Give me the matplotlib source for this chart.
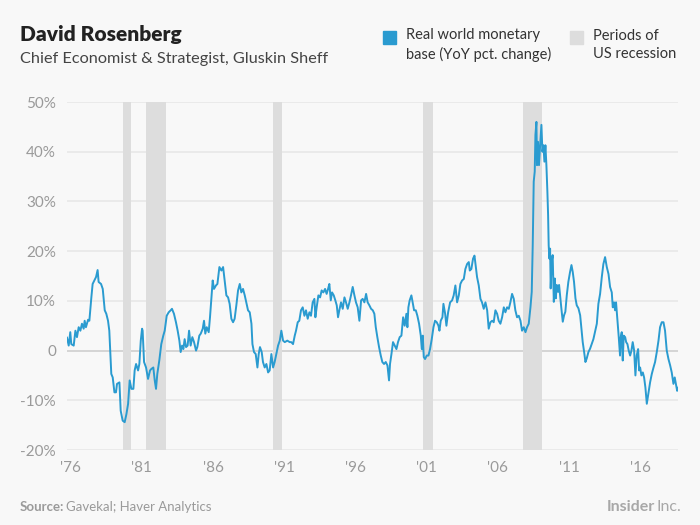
import matplotlib.pyplot as plt
import numpy as np

plt.rcParams['font.family'] = ['Lato', 'DejaVu Sans']

# decimal years and YoY % change of the real world monetary base
years = [
    1976.00, 1976.12, 1976.23, 1976.30, 1976.47, 1976.59, 1976.70, 1976.82, 1976.94, 1977.05,
    1977.17, 1977.24, 1977.33, 1977.48, 1977.57, 1977.71, 1977.80, 1977.92, 1978.04, 1978.15,
    1978.22, 1978.39, 1978.51, 1978.65, 1978.76, 1978.88, 1978.97, 1979.11, 1979.21, 1979.33,
    1979.44, 1979.51, 1979.68, 1979.77, 1979.91, 1980.05, 1980.17, 1980.29, 1980.40, 1980.52,
    1980.66, 1980.75, 1980.85, 1980.99, 1981.08, 1981.18, 1981.27,
    1981.31, 1981.41, 1981.55, 1981.69, 1981.83, 1981.92, 1982.06, 1982.16, 1982.25, 1982.34,
    1982.48, 1982.62, 1982.76, 1982.86, 1983.00, 1983.14, 1983.28, 1983.37, 1983.51, 1983.65,
    1983.77, 1983.89, 1983.98, 1984.08, 1984.17, 1984.26, 1984.36, 1984.47, 1984.57, 1984.68,
    1984.80, 1984.92, 1985.06, 1985.15, 1985.29, 1985.39, 1985.53, 1985.62, 1985.71, 1985.81,
    1985.95, 1986.04, 1986.14, 1986.23, 1986.32, 1986.46, 1986.56, 1986.70,
    1986.84, 1986.96, 1987.07, 1987.19, 1987.31, 1987.42, 1987.54, 1987.66, 1987.77, 1987.89,
    1988.01, 1988.13, 1988.24, 1988.36, 1988.48, 1988.59, 1988.71, 1988.83, 1988.95, 1989.02,
    1989.13, 1989.25, 1989.37, 1989.46, 1989.55, 1989.67, 1989.76, 1989.88, 1990.00, 1990.12,
    1990.23, 1990.35, 1990.47, 1990.58, 1990.70, 1990.82, 1990.94, 1991.05, 1991.17, 1991.29,
    1991.47, 1991.64, 1991.75, 1991.87, 1991.99,
    1992.08, 1992.20, 1992.31, 1992.43, 1992.55, 1992.67, 1992.78, 1992.90, 1993.02, 1993.13,
    1993.25, 1993.37, 1993.44, 1993.53, 1993.65, 1993.77, 1993.88, 1994.00, 1994.12, 1994.23,
    1994.33, 1994.42, 1994.52, 1994.61, 1994.73, 1994.84, 1994.94, 1995.03, 1995.12, 1995.24,
    1995.36, 1995.48, 1995.59, 1995.71, 1995.83, 1995.94, 1996.06, 1996.18, 1996.29, 1996.41,
    1996.53, 1996.65, 1996.76, 1996.88, 1997.00, 1997.11, 1997.23, 1997.35, 1997.47, 1997.58,
    1997.68, 1997.79, 1997.91, 1998.03, 1998.14, 1998.26, 1998.38, 1998.50, 1998.61, 1998.68,
    1998.78, 1998.89, 1999.01, 1999.13, 1999.24, 1999.36, 1999.48, 1999.60, 1999.71, 1999.83,
    1999.90, 1999.97, 2000.06, 2000.18, 2000.27, 2000.37, 2000.49, 2000.60, 2000.72, 2000.84,
    2000.91, 2000.98, 2001.05, 2001.14, 2001.26, 2001.38, 2001.49, 2001.61, 2001.73, 2001.84,
    2001.96, 2002.08, 2002.15, 2002.24, 2002.36, 2002.43, 2002.55, 2002.64, 2002.76, 2002.90,
    2003.04, 2003.15, 2003.27, 2003.39, 2003.51, 2003.62, 2003.74, 2003.86, 2003.97, 2004.09,
    2004.21, 2004.28, 2004.39, 2004.51, 2004.61, 2004.68, 2004.79, 2004.91, 2005.03, 2005.14,
    2005.26, 2005.38, 2005.50, 2005.61, 2005.73, 2005.85, 2005.96, 2006.08, 2006.20, 2006.31,
    2006.43, 2006.55, 2006.67, 2006.78, 2006.90, 2007.02, 2007.13, 2007.25, 2007.37, 2007.48,
    2007.60, 2007.72, 2007.84, 2007.95, 2008.07, 2008.19, 2008.30, 2008.42, 2008.54,
    2008.63, 2008.70, 2008.77, 2008.84, 2008.89, 2008.96, 2009.00, 2009.07, 2009.14, 2009.22,
    2009.31, 2009.38, 2009.45, 2009.52, 2009.59, 2009.66, 2009.73, 2009.78, 2009.82, 2009.87,
    2009.92, 2009.96, 2010.03, 2010.10, 2010.18, 2010.25, 2010.32, 2010.39, 2010.48, 2010.55,
    2010.62, 2010.71, 2010.81, 2010.90, 2010.99, 2011.09, 2011.20, 2011.32, 2011.42, 2011.51,
    2011.60, 2011.70, 2011.79, 2011.91, 2012.03, 2012.12, 2012.21, 2012.31, 2012.40, 2012.49,
    2012.61, 2012.73, 2012.96, 2013.20, 2013.31,
    2013.43, 2013.55, 2013.66, 2013.78, 2013.90, 2014.02, 2014.13, 2014.25, 2014.32, 2014.41,
    2014.48, 2014.55, 2014.65, 2014.74, 2014.83, 2014.88, 2014.95, 2015.02, 2015.09, 2015.19,
    2015.26, 2015.35, 2015.44, 2015.54, 2015.63, 2015.72, 2015.82, 2015.91, 2016.00, 2016.10,
    2016.17, 2016.24, 2016.33, 2016.43, 2016.52, 2016.61, 2016.71, 2016.82, 2016.94, 2017.06,
    2017.18, 2017.29, 2017.41, 2017.53, 2017.64, 2017.76, 2017.88, 2017.99, 2018.11, 2018.23,
    2018.35, 2018.46, 2018.58, 2018.67, 2018.77, 2018.84, 2018.89,
]
values = [
    2.6, 1.0, 3.7, 1.3, 1.0, 4.0, 2.7, 4.7, 4.0, 5.4,
    4.4, 6.0, 4.7, 6.2, 6.0, 10.7, 13.4, 14.1, 14.8, 16.2,
    13.8, 13.4, 12.4, 8.1, 7.4, 6.0, 4.0, -4.7, -5.4, -8.4,
    -8.4, -6.7, -6.4, -12.1, -14.1, -14.4, -12.8, -10.7, -6.0, -7.7,
    -7.7, -4.0, -2.7, -4.0, -2.7, 2.0, 4.4,
    4.0, -2.3, -3.4, -5.7, -4.0, -3.7, -3.4, -6.0, -7.7, -4.7,
    -2.0, 1.3, 3.0, 4.0, 7.0, 7.7, 8.1, 8.4, 7.4, 5.7,
    4.0, 2.0, -0.3, 1.0, 0.3, 2.3, 0.7, 1.0, 4.0, 1.0,
    2.7, 1.7, 0.0, 0.7, 3.0, 3.4, 4.4, 6.0, 3.4, 4.7,
    3.7, 6.7, 10.7, 14.1, 12.4, 13.1, 13.4, 16.8,
    16.1, 16.8, 14.1, 11.1, 10.7, 9.4, 6.4, 5.7, 6.4, 9.1,
    12.1, 13.4, 11.7, 12.4, 11.1, 9.7, 8.1, 7.7, 5.4, 1.3,
    -0.3, -0.7, -3.4, -0.7, 0.7, -0.3, -2.3, -3.4, -2.7, -4.4,
    -4.0, -0.7, -3.4, -2.3, -0.7, 1.0, 2.0, 4.0, 2.0, 1.7,
    2.0, 1.7, 1.7, 1.3, 3.0,
    4.0, 5.7, 6.0, 8.1, 8.7, 7.0, 8.1, 6.4, 7.7, 7.0,
    9.7, 10.4, 6.7, 8.7, 11.1, 10.7, 12.1, 11.7, 12.4, 11.4,
    12.4, 13.4, 10.1, 11.7, 11.1, 10.1, 9.1, 6.7, 8.1, 9.7,
    8.4, 10.7, 9.7, 8.4, 9.7, 11.1, 12.8, 11.1, 9.7, 8.7,
    6.0, 10.1, 10.4, 9.7, 11.4, 9.7, 9.1, 8.4, 8.1, 7.4,
    4.7, 2.7, 0.7, -1.0, -2.3, -2.7, -2.3, -3.0, -6.0, -2.7,
    -0.7, 1.7, 1.0, 0.3, 1.7, 2.7, 3.0, 6.7, 5.0, 7.4,
    4.7, 8.7, 10.1, 11.1, 9.7, 8.1, 8.1, 7.0, 5.4, 3.0,
    0.3, 3.0, -1.3, -1.7, -1.0, -1.0, 0.3, 2.3, 4.7, 6.0,
    5.7, 5.0, 4.0, 6.0, 6.7, 9.4, 7.4, 5.0, 7.7, 9.7,
    10.1, 11.1, 13.1, 9.7, 11.1, 13.4, 14.1, 14.4, 16.4, 17.4,
    17.8, 16.1, 16.4, 18.5, 19.1, 17.4, 14.8, 13.1, 10.4, 9.7,
    8.4, 9.7, 8.1, 4.4, 5.7, 6.0, 5.7, 8.1, 7.4, 6.0,
    5.4, 6.7, 8.7, 7.7, 8.7, 8.4, 9.7, 11.4, 10.4, 8.1,
    6.7, 7.0, 6.0, 4.0, 4.7, 3.7, 4.7, 5.4, 8.7,
    11.8, 21.2, 34.0, 36.0, 43.4, 46.0, 37.3, 42.0, 37.3, 41.3,
    45.4, 40.0, 41.3, 38.0, 41.3, 37.3, 31.9, 27.2, 21.2, 18.5,
    20.5, 12.5, 17.9, 19.2, 9.8, 14.5, 10.5, 13.2, 11.8, 13.2,
    11.1, 8.5, 5.8, 7.1, 7.8, 11.1, 13.8, 15.8, 17.2, 15.8,
    13.8, 10.5, 9.1, 8.5, 7.1, 4.4, 1.7, -0.3, -2.3, -1.6,
    -0.3, 0.4, 2.3, 5.4, 9.4,
    11.4, 14.8, 17.4, 18.8, 16.8, 15.4, 12.8, 11.7, 8.7, 9.7,
    8.1, 9.7, 6.0, 2.7, -1.0, 2.7, 3.7, -2.0, 3.0, 2.7,
    1.7, 1.3, 0.0, -1.0, 0.0, 1.7, 0.0, -5.0, -1.0, 0.3,
    -4.0, -3.4, -5.0, -4.4, -5.4, -7.4, -10.7, -8.7, -6.4, -4.7,
    -3.4, -2.3, -0.3, 2.0, 4.7, 5.7, 5.7, 4.0, 0.0, -1.7,
    -3.0, -4.4, -6.7, -5.4, -7.0, -8.1, -7.5,
]

# US recessions as drawn on the chart
rec_start = [1979.9, 1981.55, 1990.45, 2001.0, 2008.0]
rec_end = [1980.5, 1982.95, 1991.1, 2001.7, 2009.35]

tick_years = [1976, 1981, 1986, 1991, 1996, 2001, 2006, 2011, 2016]
y_ticks = [-20, -10, 0, 10, 20, 30, 40, 50]
y_labels = ['-20%', '-10%', '0', '10%', '20%', '30%', '40%', '50%']

bg = '#f8f8f8'
blue = '#2a9bd0'
band = '#dddddd'
grey_txt = '#9a9a9a'

fig = plt.figure(figsize=(7, 5.25), dpi=100, facecolor=bg)
ax = fig.add_axes([67 / 700, 1 - 450 / 525, 611 / 700, 348 / 525])
ax.set_facecolor(bg)

for s, e in zip(rec_start, rec_end):
    ax.axvspan(s, e, color=band, lw=0, zorder=1)

for yt in y_ticks:
    ax.axhline(yt, color='#cfcfcf' if yt == 0 else '#e8e8e8', lw=1.2, zorder=0.5)

ax.plot(years, values, color=blue, lw=1.4, zorder=3)

ax.set_xlim(1976.0, 2018.9)
ax.set_ylim(-20, 50)
ax.set_yticks(y_ticks)
ax.set_yticklabels(y_labels)
ax.set_xticks([y + 0.25 for y in tick_years])
ax.set_xticklabels(["'" + str(y)[2:] for y in tick_years])
ax.tick_params(length=0, colors=grey_txt, labelsize=11)
ax.tick_params(axis='y', pad=8)
ax.tick_params(axis='x', pad=8)
for sp in ax.spines.values():
    sp.set_visible(False)

# header
fig.text(20 / 700, 1 - 34 / 525, 'David Rosenberg', fontsize=15, fontweight='heavy',
         color='#222222', va='center', ha='left')
fig.text(20 / 700, 1 - 59 / 525, 'Chief Economist & Strategist, Gluskin Sheff', fontsize=11.7,
         color='#444444', va='center', ha='left')

# legend
fig.patches.append(plt.Rectangle((383 / 700, 1 - 44 / 525), 13 / 700, 13 / 525,
                                 transform=fig.transFigure, color=blue))
fig.text(406 / 700, 1 - 45 / 525, 'Real world monetary\nbase (YoY pct. change)',
         fontsize=10.5, color='#333333', va='center', ha='left', linespacing=1.35)
fig.patches.append(plt.Rectangle((570 / 700, 1 - 44 / 525), 13 / 700, 13 / 525,
                                 transform=fig.transFigure, color=band))
fig.text(593 / 700, 1 - 45 / 525, 'Periods of\nUS recession',
         fontsize=10.5, color='#333333', va='center', ha='left', linespacing=1.35)

# footer
fig.text(20 / 700, 1 - 507 / 525, 'Source:', fontsize=9.5, fontweight='bold',
         color=grey_txt, va='center', ha='left')
fig.text(66 / 700, 1 - 507 / 525, 'Gavekal; Haver Analytics', fontsize=9.5,
         color=grey_txt, va='center', ha='left')
fig.text(655 / 700, 1 - 507 / 525, 'Insider', fontsize=11.5, fontweight='bold',
         color='#a8a8a8', va='center', ha='right')
fig.text(656 / 700, 1 - 507 / 525, 'Inc.', fontsize=11.5,
         color='#a8a8a8', va='center', ha='left')

fig.savefig('out.png', dpi=100, facecolor=bg)
